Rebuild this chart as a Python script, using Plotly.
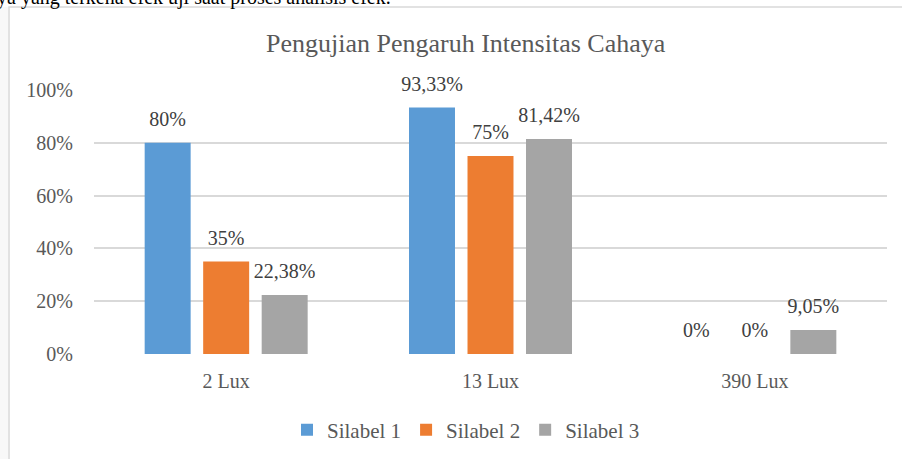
import plotly.graph_objects as go

categories = ["2 Lux", "13 Lux", "390 Lux"]
series_names = ["Silabel 1", "Silabel 2", "Silabel 3"]
silabel_1 = [0.80, 0.9333, 0.0]
silabel_2 = [0.35, 0.75, 0.0]
silabel_3 = [0.2238, 0.8142, 0.0905]
series_values = [silabel_1, silabel_2, silabel_3]
colors = ["#5b9bd5", "#ed7d31", "#a5a5a5"]
y_ticks = [0, 0.2, 0.4, 0.6, 0.8, 1.0]
y_tick_labels = ["0%", "20%", "40%", "60%", "80%", "100%"]
title_text = "Pengujian Pengaruh Intensitas Cahaya"
page_text = "ya yang terkena efek uji saat proses analisis efek."

W, H = 902, 459
FONT = "Liberation Serif, Times New Roman, serif"


def fmt(v):
    s = f"{v * 100:.2f}".rstrip("0").rstrip(".")
    return s.replace(".", ",") + "%"


fig = go.Figure()
for i, (name, vals) in enumerate(zip(series_names, series_values)):
    fig.add_trace(go.Bar(
        x=categories, y=vals, name=name, marker_color=colors[i],
        marker_line_width=0, offsetgroup=str(i), hoverinfo="skip",
    ))
for i, (name, vals) in enumerate(zip(series_names, series_values)):
    fig.add_trace(go.Scatter(
        x=categories, y=vals, mode="markers+text",
        text=[fmt(v) for v in vals], textposition="top center",
        textfont=dict(family=FONT, size=20, color="#404040"),
        marker=dict(size=17, opacity=0), offsetgroup=str(i),
        showlegend=False, hoverinfo="skip", cliponaxis=False,
    ))

# page text above the chart box, clipped at the top edge (overlay pixel axes)
fig.add_trace(go.Scatter(
    x=[-3], y=[-1], mode="text", text=[page_text],
    textposition="middle right",
    textfont=dict(family=FONT, size=20, color="#000000"),
    xaxis="x2", yaxis="y2", showlegend=False, hoverinfo="skip",
    cliponaxis=True,
))

x0, x1 = 94, 887
ytop, ybot = 90, 354

fig.update_layout(
    width=W, height=H,
    margin=dict(l=0, r=0, t=0, b=0, autoexpand=False),
    paper_bgcolor="white", plot_bgcolor="rgba(0,0,0,0)",
    barmode="group", bargap=0.336, bargroupgap=0.214,
    scattermode="group", scattergap=0.336,
    font=dict(family=FONT, color="#595959", size=20),
    xaxis=dict(
        domain=[x0 / W, x1 / W], showgrid=False, showline=False,
        zeroline=False, tickfont=dict(size=20, color="#595959"),
        ticklabelstandoff=13, automargin=False,
    ),
    yaxis=dict(
        domain=[1 - ybot / H, 1 - ytop / H], range=[0, 1],
        tickvals=y_ticks, ticktext=y_tick_labels,
        showgrid=True, gridcolor="#d9d9d9", gridwidth=2,
        zeroline=False, showline=False,
        tickfont=dict(size=20, color="#595959"),
        ticklabelstandoff=20, automargin=False,
    ),
    xaxis2=dict(domain=[0, 1], range=[0, W], visible=False,
                anchor="y2", fixedrange=True),
    yaxis2=dict(domain=[0, 1], range=[H, 0], visible=False,
                anchor="x2", fixedrange=True),
    legend=dict(
        orientation="h", x=466 / W, xanchor="center",
        y=1 - 430 / H, yanchor="middle",
        font=dict(size=21, color="#595959"),
        bgcolor="rgba(0,0,0,0)",
    ),
    shapes=[
        dict(type="rect", xref="paper", yref="paper",
             x0=0, x1=8 / W, y0=-0.05, y1=1 - 7 / H,
             fillcolor="#f8f8f8", line=dict(width=0), layer="below"),
        dict(type="rect", xref="paper", yref="paper",
             x0=9 / W, x1=1.05, y0=-0.05, y1=1 - 7 / H,
             fillcolor="rgba(0,0,0,0)", line=dict(color="#d9d9d9", width=1.5),
             layer="below"),
    ],
    annotations=[
        dict(text=title_text, xref="paper", yref="paper",
             x=466 / W, y=1 - 43 / H, xanchor="center", yanchor="middle",
             showarrow=False, font=dict(size=26, color="#595959", family=FONT)),
    ],
)

fig.write_html("out.html", config={"displayModeBar": False},
               post_script="document.body.style.margin='0px';")
